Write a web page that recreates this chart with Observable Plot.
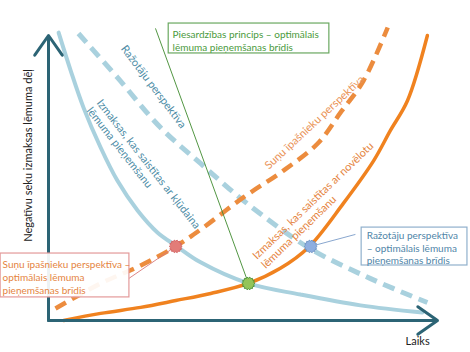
<!DOCTYPE html>
<html>
<head>
<meta charset="utf-8">
<script src="https://cdn.jsdelivr.net/npm/d3@7"></script>
<script src="https://cdn.jsdelivr.net/npm/@observablehq/plot@0.6"></script>
<style>
  html, body { margin: 0; padding: 0; background: #fff; }
  #chart { width: 470px; height: 352px; }
</style>
</head>
<body>
<div id="chart"></div>
<script>
// Axes: time (0..100) and cost of negative consequences (0..100), abstract units
const timeDomain = [0, 100];
const costDomain = [0, 100];

// Solid light blue: costs of a wrong (premature) decision
const wrongDecisionCost = [
  {t: 2.6, c: 101.0}, {t: 5.7, c: 87.7}, {t: 9.0, c: 74.7}, {t: 13.4, c: 60.7},
  {t: 17.7, c: 49.1}, {t: 22.9, c: 38.6}, {t: 28.0, c: 30.9}, {t: 32.7, c: 26.3},
  {t: 39.1, c: 20.4}, {t: 51.4, c: 13.0}, {t: 64.8, c: 9.1}, {t: 80.2, c: 5.3},
  {t: 96.1, c: 2.8}
];
// Dashed light blue: producers' perspective
const producerView = [
  {t: 7.7, c: 100.7}, {t: 17.7, c: 85.3}, {t: 28.8, c: 67.7}, {t: 39.1, c: 55.1},
  {t: 50.1, c: 42.1}, {t: 66.8, c: 25.6}, {t: 82.8, c: 14.7}, {t: 97.4, c: 6.3}
];
// Dashed orange: dog owners' perspective
const ownerView = [
  {t: 1.8, c: 4.2}, {t: 13.4, c: 13.0}, {t: 23.7, c: 19.3}, {t: 32.7, c: 26.0},
  {t: 39.1, c: 31.9}, {t: 50.1, c: 43.2}, {t: 60.4, c: 52.6}, {t: 69.2, c: 62.1},
  {t: 75.1, c: 73.0}, {t: 81.0, c: 84.2}, {t: 87.2, c: 102.8}
];
// Solid orange: costs of a delayed decision
const delayedDecisionCost = [
  {t: 3.9, c: 0.0}, {t: 13.4, c: 2.5}, {t: 23.7, c: 4.6}, {t: 32.7, c: 7.0},
  {t: 41.7, c: 9.5}, {t: 51.4, c: 13.0}, {t: 59.6, c: 18.3}, {t: 66.8, c: 25.6},
  {t: 75.8, c: 41.1}, {t: 83.6, c: 56.1}, {t: 87.9, c: 66.7}, {t: 92.3, c: 77.2},
  {t: 97.4, c: 100.0}
];

// Optimal decision moments (marker points): owners, precaution, producers
const optimumNames = ["owners", "precaution", "producers"];
const optimumT = [32.7, 51.4, 67.4];
const optimumC = [26.0, 13.0, 26.0];
const optimumFill = ["#e27c78", "#93c458", "#8eaee0"];
const optimumStroke = ["#d06060", "#3e8a2e", "#6a8fc0"];
// Callout connector start points, same order (end at the optimum marker)
const leaderT = [20.6, 27.5, 78.9];
const leaderC = [14.7, 102.5, 30.2];
const leaderColor = ["#d87878", "#3e8a2e", "#7a9cc8"];

// Callout boxes (corners in axis units) and their texts
const boxTexts = [
  "Piesardzības princips – optimālais\nlēmuma pieņemšanas brīdis",
  "Suņu īpašnieku perspektīva –\noptimālais lēmuma\npieņemšanas brīdis",
  "Ražotāju perspektīva\n– optimālais lēmuma\npieņemšanas brīdis"
];
const boxT1 = [30.9, -12.3, 80.5];
const boxT2 = [72.2, 20.8, 107.7];
const boxC1 = [93.7, 8.1, 19.3];
const boxC2 = [104.2, 23.5, 32.6];
const boxTextT = [31.9, -11.8, 81.8];
const boxTextC = [98.4, 15.3, 25.6];
const boxTextColor = ["#4a9a3c", "#e5843e", "#4f85a8"];
const boxStroke = ["#6aa860", "#e39a9a", "#90b0cc"];

// Curve labels
const curveLabels = [
  "Ražotāju perspektīva",
  "Izmaksas, kas saistītas ar kļūdaina\nlēmuma pieņemšanu",
  "Suņu īpašnieku perspektīva",
  "Izmaksas, kas saistītas ar novēlotu\nlēmuma pieņemšanu"
];
const curveLabelT = [27.0, 11.8, 68.4, 54.0];
const curveLabelC = [82.0, 75.8, 69.5, 20.7];
const curveLabelAngle = [53, 52, -43, -44];
const curveLabelAnchor = ["middle", "start", "middle", "start"];
const curveLabelColor = ["#4d8ca6", "#4d8ca6", "#ea9356", "#e5843e"];

// Axis titles
const yTitle = "Negatīvu seku izmaksas lēmuma dēļ";
const xTitle = "Laiks";

const boxes = boxTexts.map((s, i) => ({
  text: s, t1: boxT1[i], t2: boxT2[i], c1: boxC1[i], c2: boxC2[i],
  tt: boxTextT[i], tc: boxTextC[i], color: boxTextColor[i], stroke: boxStroke[i]
}));
const optima = optimumNames.map((n, i) => ({
  name: n, t: optimumT[i], c: optimumC[i], fill: optimumFill[i], stroke: optimumStroke[i]
}));
const leaders = optima.map((o, i) => ({
  t1: leaderT[i], c1: leaderC[i], t2: o.t, c2: o.c, color: leaderColor[i]
}));
const labels = curveLabels.map((s, i) => ({
  text: s, t: curveLabelT[i], c: curveLabelC[i], angle: curveLabelAngle[i],
  anchor: curveLabelAnchor[i], color: curveLabelColor[i]
}));
const axisArrows = [
  {t1: timeDomain[0], c1: costDomain[0], t2: timeDomain[1], c2: costDomain[0]},
  {t1: timeDomain[0], c1: costDomain[0], t2: timeDomain[0], c2: costDomain[1]}
];

// jagged blob symbol for the optimum markers
const blob = {
  draw(ctx, size) {
    const r = Math.sqrt(size / Math.PI);
    const n = 14;
    for (let k = 0; k < 2 * n; k++) {
      const a = (k / (2 * n)) * 2 * Math.PI;
      const rr = k % 2 ? r * 0.82 : r;
      const x = rr * Math.cos(a), y = rr * Math.sin(a);
      k ? ctx.lineTo(x, y) : ctx.moveTo(x, y);
    }
    ctx.closePath();
  }
};

const font = "Lato, 'Liberation Sans', sans-serif";
const chart = Plot.plot({
  width: 470,
  height: 352,
  margin: 0,
  x: {domain: timeDomain, range: [48, 437], axis: null},
  y: {domain: costDomain, range: [320, 35], axis: null},
  style: {fontFamily: font, background: "#fff", overflow: "visible"},
  marks: [
    Plot.line(producerView, {x: "t", y: "c", stroke: "#a9d1de", strokeWidth: 5,
      strokeDasharray: "12,7", strokeLinecap: "butt", curve: "catmull-rom"}),
    Plot.line(wrongDecisionCost, {x: "t", y: "c", stroke: "#a9d1de", strokeWidth: 4, curve: "catmull-rom"}),
    Plot.line(ownerView, {x: "t", y: "c", stroke: "#ec8c3e", strokeWidth: 4.5,
      strokeDasharray: "12,7", strokeLinecap: "butt", curve: "catmull-rom"}),
    Plot.line(delayedDecisionCost, {x: "t", y: "c", stroke: "#f0821f", strokeWidth: 3.5, curve: "catmull-rom"}),
    Plot.arrow(axisArrows, {x1: "t1", y1: "c1", x2: "t2", y2: "c2", stroke: "#2c6475",
      strokeWidth: 3, headLength: 12, headAngle: 70}),
    Plot.link(leaders, {x1: "t1", y1: "c1", x2: "t2", y2: "c2", stroke: "color", strokeWidth: 0.9}),
    Plot.rect(boxes, {x1: "t1", x2: "t2", y1: "c1", y2: "c2", fill: "#fff", fillOpacity: 0.92,
      stroke: "stroke", strokeWidth: 1.2}),
    Plot.text(boxes, {x: "tt", y: "tc", text: "text", fill: "color", textAnchor: "start",
      lineAnchor: "middle", lineHeight: 1.28, fontSize: 10}),
    Plot.dot(optima, {x: "t", y: "c", symbol: blob, r: 6.5, fill: "fill", stroke: "stroke", strokeWidth: 0.8}),
    Plot.text(labels.filter(d => d.anchor === "middle"), {x: "t", y: "c", text: "text", rotate: "angle",
      fill: "color", fontSize: 11, textAnchor: "middle", lineAnchor: "middle"}),
    Plot.text(labels.filter(d => d.anchor === "start"), {x: "t", y: "c", text: "text", rotate: "angle",
      fill: "color", fontSize: 11, textAnchor: "start", lineAnchor: "middle", lineHeight: 1.15}),
    Plot.text([yTitle], {x: timeDomain[0] - 5.1, y: 57.9, text: d => d, rotate: -90,
      fill: "#222", fontSize: 11}),
    Plot.text([xTitle], {x: 94.9, y: -7.4, text: d => d, fill: "#222", fontSize: 11})
  ]
});
document.getElementById("chart").appendChild(chart);
</script>
</body>
</html>
